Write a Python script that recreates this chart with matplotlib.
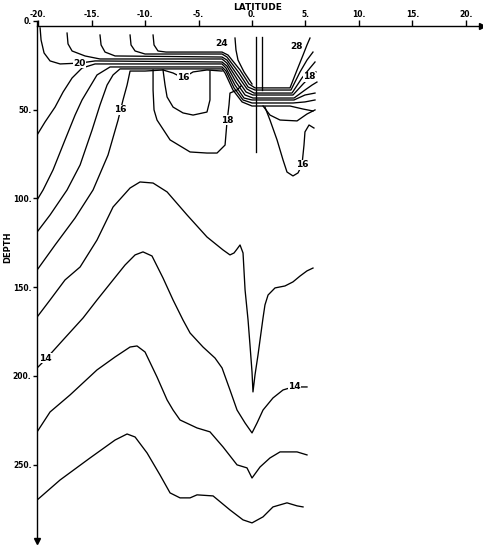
import matplotlib
matplotlib.use("Agg")
import matplotlib.pyplot as plt

plt.rcParams['font.family'] = ['DejaVu Sans']
plt.rcParams['font.weight'] = 'bold'

# axis ticks
lat_ticks = [-20, -15, -10, -5, 0, 5, 10, 15, 20]
lat_labels = ['-20.', '-15.', '-10.', '-5.', '0.', '5.', '10.', '15.', '20.']
depth_ticks = [0, 50, 100, 150, 200, 250]
depth_labels = ['0.', '50.', '100.', '150.', '200.', '250.']

# isotherms (latitude, depth in m)
lat_b1 = [-9.25, -9.16, -8.79, -8.04, -2.80, -2.24, -1.12, -0.28, 0.28, 3.55, 4.21, 4.77, 5.14, 5.42]
dep_b1 = [7.9, 13.5, 16.9, 17.5, 17.5, 19.2, 27.6, 35.5, 37.7, 37.7, 27.6, 19.2, 13.5, 9.6]

lat_b2 = [-11.40, -11.31, -10.93, -10.0, -2.80, -2.34, -1.21, -0.37, 0.28, 3.64, 4.49, 5.14, 5.70]
dep_b2 = [7.9, 13.5, 16.9, 18.6, 18.6, 20.3, 29.3, 37.2, 38.9, 38.9, 28.7, 22.0, 17.5]

lat_b3 = [-14.21, -14.11, -13.74, -12.80, -2.80, -2.34, -1.31, -0.47, 0.19, 3.74, 4.67, 5.42, 5.89]
dep_b3 = [7.9, 13.5, 17.5, 19.7, 20.3, 22.0, 31.0, 38.3, 40.6, 40.6, 32.1, 26.5, 23.1]

lat_b4 = [-17.29, -17.20, -16.82, -15.61, -14.21, -2.80, -2.34, -1.40, -0.56, 0.09, 3.83, 4.77, 5.42, 5.98]
dep_b4 = [6.8, 12.9, 16.9, 19.7, 21.4, 21.4, 23.7, 32.7, 40.0, 41.7, 41.7, 35.5, 31.5, 28.7]

lat_20 = [-19.81, -19.72, -19.44, -18.88, -17.94, -16.07, -14.67, -2.80, -2.34, -1.50, -0.65, 0.09, 3.93, 4.95, 5.61, 6.07]
dep_20 = [3.9, 10.7, 18.0, 22.5, 24.2, 23.7, 22.5, 23.1, 25.4, 34.4, 41.7, 43.4, 43.4, 38.9, 36.1, 34.4]

lat_19 = [-20.09, -19.35, -18.41, -17.66, -16.82, -15.89, -14.67, -2.80, -2.43, -1.59, -0.75, 0.0, 3.93, 4.95, 5.89]
dep_19 = [64.2, 56.9, 48.5, 40.0, 32.1, 26.5, 24.2, 24.2, 26.5, 36.1, 43.4, 44.5, 44.5, 41.7, 40.6]

lat_18 = [-20.09, -19.53, -18.60, -17.48, -16.54, -15.89, -14.49, -13.27, -2.80, -2.43, -1.68, -0.84, 0.0, 3.83, 4.95, 5.89]
dep_18 = [100.8, 95.2, 83.9, 67.0, 53.0, 44.5, 30.4, 25.9, 25.9, 28.2, 37.7, 44.5, 46.2, 46.2, 45.6, 44.5]

lat_17 = [-20.09, -18.88, -17.29, -16.07, -14.95, -14.21, -13.55, -12.99, -12.34, -2.80, -2.52, -1.78, -0.93, 0.0, 3.55, 4.77, 5.70]
dep_17 = [118.9, 109.3, 95.2, 81.1, 61.4, 47.3, 36.1, 30.4, 27.0, 27.0, 29.3, 38.9, 45.6, 47.9, 47.9, 49.6, 50.7]

lat_16 = [-20.09, -18.41, -16.54, -14.86, -13.46, -12.52, -12.06, -11.68, -11.40, -10.0, -8.32, -7.38, -6.45, -5.51, -4.21, -2.80]
dep_16 = [140.3, 126.2, 111.0, 95.2, 75.5, 55.8, 44.5, 36.1, 28.2, 28.2, 27.6, 29.3, 32.1, 28.7, 27.6, 28.2]

lat_loop16 = [-8.32, -8.13, -7.94, -7.38, -6.45, -5.51, -4.21, -3.93, -3.93, -3.93]
dep_loop16 = [27.6, 36.1, 42.8, 48.5, 51.8, 53.0, 51.3, 44.5, 36.1, 28.2]

lat_loop18 = [-9.25, -9.25, -9.16, -8.88, -7.66, -5.79, -4.21, -3.27, -2.52, -2.34, -2.15, -2.06, -1.40, -1.03]
dep_loop18 = [27.6, 38.9, 50.1, 55.8, 67.0, 73.8, 74.4, 74.4, 69.9, 56.9, 47.3, 40.6, 38.9, 36.6]

lat_r19 = [1.03, 1.68, 2.62, 4.21, 5.14, 5.89]
dep_r19 = [47.9, 53.0, 55.8, 56.3, 52.4, 50.1]

lat_r16 = [1.21, 1.68, 2.34, 2.90, 3.27, 3.83, 4.30, 4.67, 4.86, 4.95, 5.33, 5.79]
dep_r16 = [48.5, 55.8, 67.0, 78.3, 85.1, 87.3, 85.6, 81.1, 69.9, 62.5, 58.6, 60.3]

lat_s25 = [-1.59, -1.50, -1.31, -0.75, 0.0]
dep_s25 = [9.6, 16.3, 22.0, 28.7, 35.5]

lat_v1 = [0.37, 0.37]
dep_v1 = [9.0, 73.8]
lat_v2 = [0.93, 0.93]
dep_v2 = [9.0, 38.9]

lat_15 = [-20.09, -18.88, -17.48, -16.07, -14.49, -12.99, -11.40, -10.47, -9.25, -7.94, -6.07, -4.21, -2.71,
          -2.06, -1.68, -1.40, -1.12, -0.84, -0.65, -0.37, -0.19, 0.0, 0.09, 0.28, 0.56, 0.75, 1.03, 1.21,
          1.50, 2.15, 3.08, 3.83, 4.49, 5.14, 5.70]
dep_15 = [166.8, 157.2, 145.9, 138.6, 123.4, 104.8, 94.1, 90.7, 91.3, 96.3, 109.3, 121.7, 129.0,
          131.8, 130.7, 128.5, 126.2, 130.7, 151.5, 168.5, 182.5, 197.7, 209.0, 199.4, 188.2, 179.7, 167.3, 160.0,
          154.4, 150.4, 149.3, 147.0, 143.7, 140.8, 139.2]

lat_14 = [-20.09, -19.35, -17.66, -15.79, -14.49, -12.99, -11.87, -10.93, -10.19, -9.35, -8.32, -7.38, -6.45,
          -5.79, -4.58, -3.46, -2.80, -2.06, -1.40, -0.65, 0.0, 0.47, 1.03, 1.96, 2.90, 3.83, 5.14]
dep_14 = [195.5, 191.0, 179.7, 167.3, 157.2, 145.9, 137.5, 131.8, 130.1, 132.4, 144.8, 157.2, 168.5,
          175.8, 183.7, 189.9, 195.5, 207.9, 219.2, 226.5, 232.1, 226.5, 219.2, 212.4, 207.9, 206.2, 206.2]

lat_13 = [-20.09, -18.88, -17.01, -14.49, -12.80, -11.40, -10.75, -10.0, -8.88, -7.94, -7.38, -6.73, -5.14,
          -3.93, -2.71, -1.40, -0.47, 0.0, 0.75, 1.68, 2.62, 4.21, 5.14]
dep_13 = [231.5, 220.3, 210.7, 196.6, 189.3, 183.7, 183.1, 186.5, 200.6, 213.5, 219.2, 224.8, 229.3,
          231.5, 240.0, 250.1, 251.8, 257.5, 251.3, 246.2, 242.8, 242.8, 244.5]

lat_12 = [-20.09, -17.94, -15.14, -12.80, -11.68, -10.93, -9.81, -8.60, -7.66, -6.73, -5.79, -5.14, -3.64,
          -2.06, -0.84, 0.0, 1.03, 1.96, 3.27, 4.21, 4.77]
dep_12 = [269.9, 258.6, 246.2, 236.1, 232.7, 234.4, 243.4, 255.8, 265.9, 268.7, 268.7, 267.0, 267.6,
          275.5, 281.1, 282.8, 279.4, 273.8, 271.5, 273.2, 273.8]

contours = [(lat_b1, dep_b1), (lat_b2, dep_b2), (lat_b3, dep_b3), (lat_b4, dep_b4),
            (lat_20, dep_20), (lat_19, dep_19), (lat_18, dep_18), (lat_17, dep_17),
            (lat_16, dep_16), (lat_loop16, dep_loop16), (lat_loop18, dep_loop18),
            (lat_r19, dep_r19), (lat_r16, dep_r16), (lat_s25, dep_s25),
            (lat_v1, dep_v1), (lat_v2, dep_v2),
            (lat_15, dep_15), (lat_14, dep_14), (lat_13, dep_13), (lat_12, dep_12)]

# contour labels
label_text = ['20', '16', '16', '18', '24', '28', '18', '16', '14', '14']
label_lat = [-16.1, -12.3, -6.4, -2.3, -2.8, 4.2, 5.4, 4.7, -19.3, 4.0]
label_dep = [23.7, 50.1, 32.1, 55.8, 12.4, 14.6, 31.5, 81.1, 189.9, 206.2]

fig = plt.figure(figsize=(4.83, 5.5), dpi=100)
ax = fig.add_axes([37 / 483, 9 / 550, 445 / 483, 520 / 550])
ax.set_xlim(-20.1, 21.5)
ax.set_ylim(293, 0)

for la, de in contours:
    ax.plot(la, de, color='black', lw=0.95, solid_joinstyle='round')

for t, la, de in zip(label_text, label_lat, label_dep):
    ax.text(la, de, t, fontsize=6.5, fontweight='heavy', ha='center', va='center',
            bbox=dict(facecolor='white', edgecolor='none', pad=0.2))

ax.spines['right'].set_visible(False)
ax.spines['bottom'].set_visible(False)
ax.spines['top'].set_position(('data', 3.0))
ax.spines['top'].set_linewidth(1.0)
ax.spines['left'].set_linewidth(1.0)
ax.xaxis.tick_top()
ax.set_xticks(lat_ticks)
ax.set_xticklabels(lat_labels)
ax.set_yticks(depth_ticks)
ax.set_yticklabels(depth_labels)
ax.tick_params(axis='x', direction='out', length=4, width=1, pad=1, labelsize=5.5)
ax.tick_params(axis='y', direction='out', length=3, width=1, pad=1, labelsize=5.5)

# arrow heads on the axes
ax.plot(21.5, 3.0, '>', color='black', markersize=4, clip_on=False)
ax.plot(0, 0, 'v', color='black', markersize=4, transform=ax.transAxes, clip_on=False)

fig.text(258 / 483, 1 - 7 / 550, 'LATITUDE', ha='center', va='center', fontsize=6.5, fontweight='bold')
fig.text(8 / 483, 1 - 247 / 550, 'DEPTH', ha='center', va='center', rotation=90, fontsize=6, fontweight='bold')

fig.savefig('out.png', dpi=100, facecolor='white')
